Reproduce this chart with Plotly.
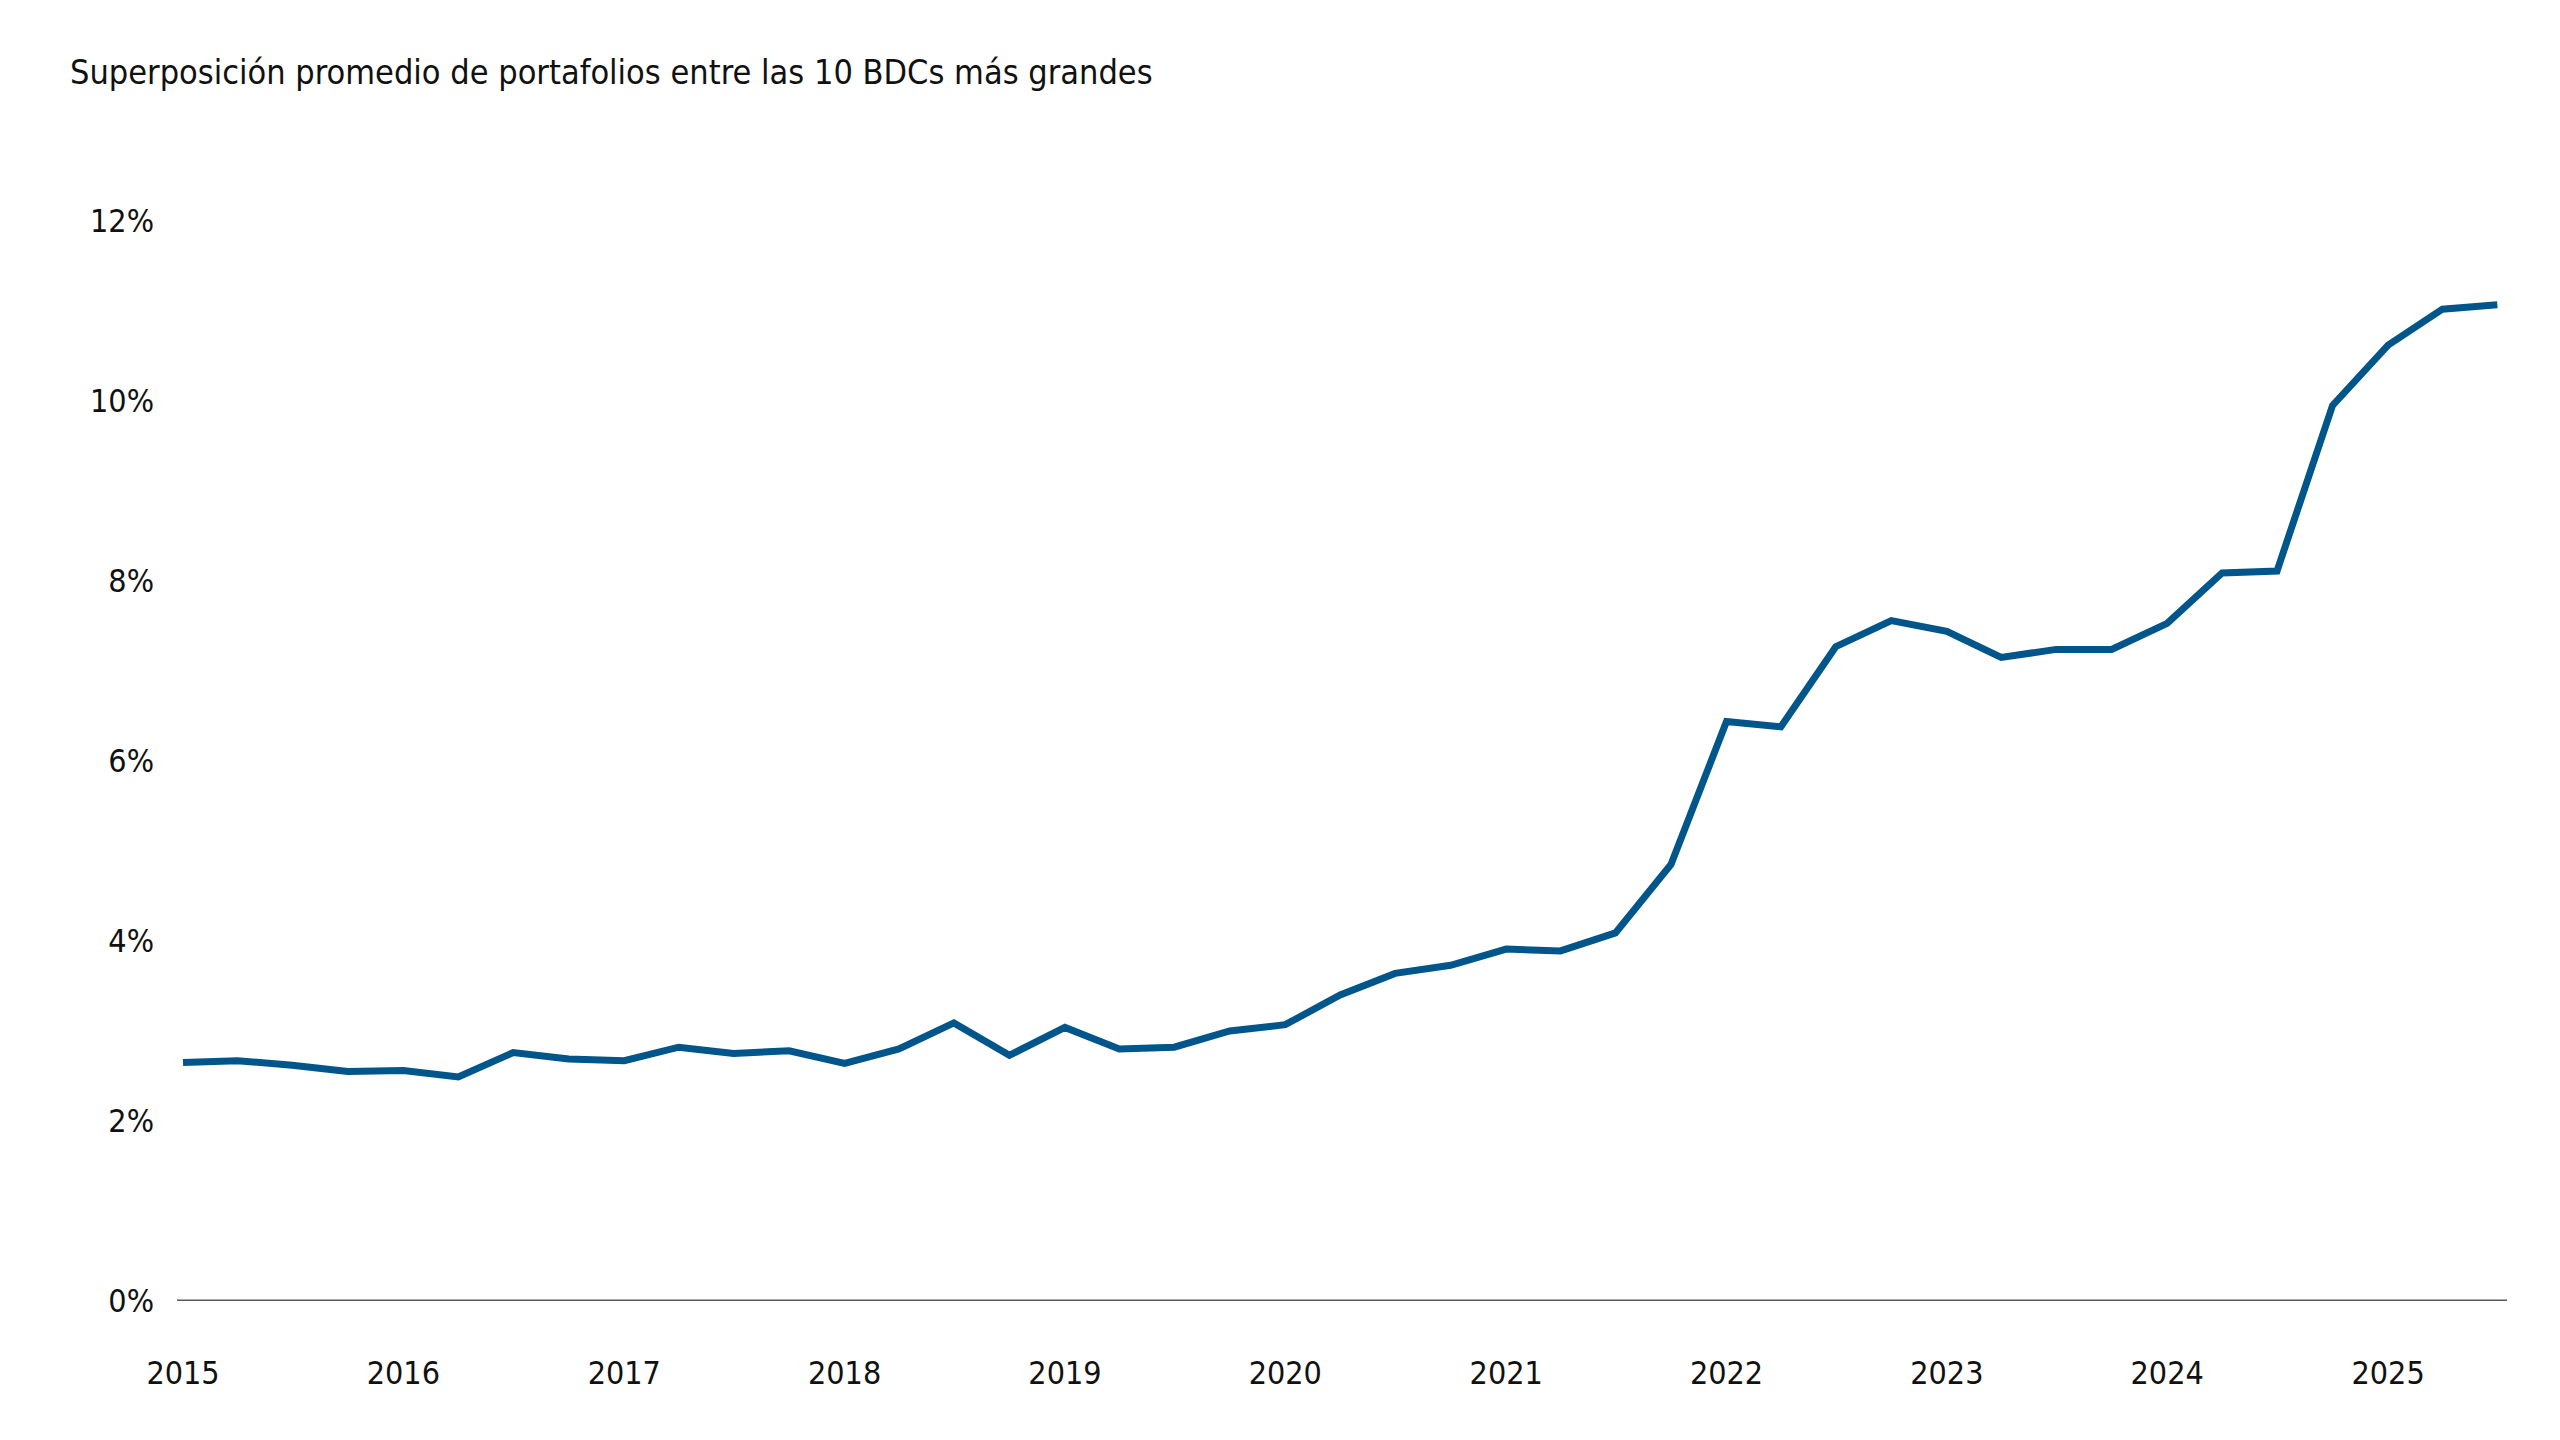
"""Average portfolio overlap among the 10 largest BDCs (quarterly)."""

import pandas as pd
import plotly.graph_objects as go

# -- data -------------------------------------------------------------------

quarters = pd.date_range("2015-01-01", periods=43, freq="QS")

overlap_pct = [
    2.65, 2.67, 2.62, 2.55,   # 2015
    2.56, 2.49, 2.76, 2.69,   # 2016
    2.67, 2.82, 2.75, 2.78,   # 2017
    2.64, 2.80, 3.09, 2.73,   # 2018
    3.04, 2.80, 2.82, 3.00,   # 2019
    3.07, 3.40, 3.64, 3.73,   # 2020
    3.91, 3.89, 4.09, 4.85,   # 2021
    6.44, 6.38, 7.27, 7.56,   # 2022
    7.44, 7.15, 7.24, 7.24,   # 2023
    7.53, 8.09, 8.11, 9.95,   # 2024
    10.62, 11.02, 11.07,      # 2025
]

y_ticks = [0, 2, 4, 6, 8, 10, 12]
y_tick_text = ["0%", "2%", "4%", "6%", "8%", "10%", "12%"]

title_text = "Superposición promedio de portafolios entre las 10 BDCs más grandes"

# -- figure -----------------------------------------------------------------

FONT = "DejaVu Sans Condensed, Roboto, sans-serif"
LINE_COLOR = "#00568A"
TEXT_COLOR = "#111111"

fig = go.Figure()
fig.add_trace(
    go.Scatter(
        x=quarters, y=overlap_pct, mode="lines",
        line=dict(color=LINE_COLOR, width=7),
        showlegend=False, hoverinfo="x+y",
    )
)

fig.update_xaxes(
    range=["2014-12-22", "2025-07-17"],
    tickformat="%Y", dtick="M12", tick0="2015-01-01",
    showgrid=False, zeroline=False, showline=False,
    ticks="", ticklabelstandoff=50,
    tickfont=dict(family=FONT, size=32, color=TEXT_COLOR),
)
fig.update_yaxes(
    range=[0, 12], tickvals=y_ticks, ticktext=y_tick_text,
    showgrid=False, zeroline=False, showline=False,
    ticks="", ticklabelstandoff=22,
    tickfont=dict(family=FONT, size=32, color=TEXT_COLOR),
)

# baseline at 0%
fig.add_shape(
    type="line", xref="paper", yref="y", x0=0, x1=1, y0=0, y1=0,
    line=dict(color="#555a5f", width=3), layer="below",
)

fig.update_layout(
    width=2560, height=1440,
    margin=dict(l=169, r=61, t=213, b=147),
    plot_bgcolor="white", paper_bgcolor="white",
    font=dict(family=FONT, color=TEXT_COLOR),
    title=dict(
        text=title_text, x=62 / 2560, xanchor="left",
        y=1 - 64 / 1440, yanchor="middle",
        font=dict(family=FONT, size=34, color=TEXT_COLOR),
    ),
)

fig.write_html("out.html")
